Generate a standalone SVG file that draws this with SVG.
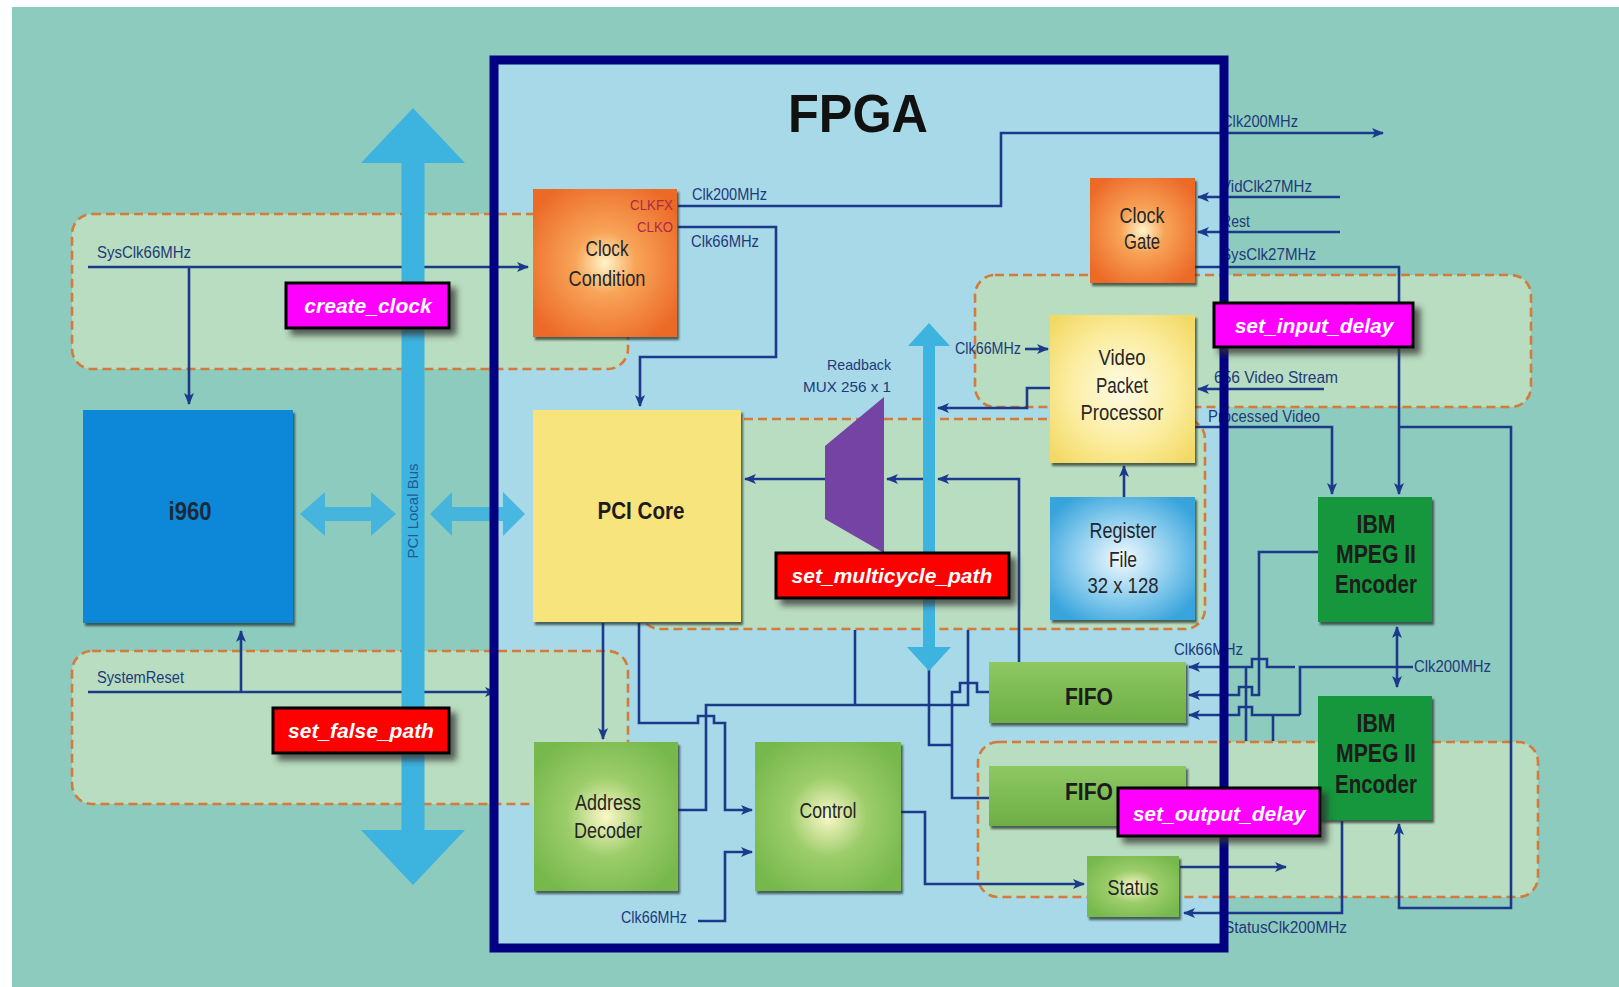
<svg xmlns="http://www.w3.org/2000/svg" width="1619" height="987" viewBox="0 0 1619 987">
<defs>
<style>
.ln{fill:none;stroke:#1b3a8a;stroke-width:2.6}
.arr{marker-end:url(#ah)}
.rg{fill:#b9ddc0;stroke:#d47a3a;stroke-width:2.6;stroke-dasharray:9 5}
.bus{fill:#3db3e0}
.lbl{font-family:"Liberation Sans",Arial,sans-serif;font-size:16px;fill:#1e3a7a}
.bx{font-family:"Liberation Sans",Arial,sans-serif;font-size:22px;fill:#262626;text-anchor:middle}
.bxb{font-family:"Liberation Sans",Arial,sans-serif;font-size:24px;font-weight:bold;fill:#1c1c1c;text-anchor:middle}
.ann{font-family:"Liberation Sans",Arial,sans-serif;font-size:21px;font-weight:bold;font-style:italic;fill:#ffffff;text-anchor:middle}
.annbox{stroke:#000;stroke-width:3;filter:url(#sh2)}
.node{filter:url(#sh1)}
</style>
<marker id="ah" viewBox="0 0 12 10" refX="11" refY="5" markerWidth="12" markerHeight="10" markerUnits="userSpaceOnUse" orient="auto-start-reverse">
<path d="M0,0 L12,5 L0,10 L3,5 z" fill="#1b3a8a"/>
</marker>
<radialGradient id="gOr" cx="0.5" cy="0.5" r="0.6">
<stop offset="0" stop-color="#fff4c8"/><stop offset="0.35" stop-color="#f8a458"/><stop offset="1" stop-color="#ec6a28"/>
</radialGradient>
<radialGradient id="gGr" cx="0.5" cy="0.5" r="0.6">
<stop offset="0" stop-color="#fbf7c8"/><stop offset="0.45" stop-color="#9ccd6a"/><stop offset="1" stop-color="#76b84c"/>
</radialGradient>
<radialGradient id="gYe" cx="0.5" cy="0.5" r="0.65">
<stop offset="0" stop-color="#fffbe6"/><stop offset="0.6" stop-color="#fbec9c"/><stop offset="1" stop-color="#f2d966"/>
</radialGradient>
<radialGradient id="gBl" cx="0.5" cy="0.5" r="0.6">
<stop offset="0" stop-color="#f4faff"/><stop offset="0.55" stop-color="#8ccdee"/><stop offset="1" stop-color="#38a4dc"/>
</radialGradient>
<linearGradient id="gFi" x1="0" y1="0" x2="0" y2="1">
<stop offset="0" stop-color="#8ec862"/><stop offset="1" stop-color="#6eae46"/>
</linearGradient>
<filter id="sh1" x="-10%" y="-10%" width="125%" height="125%">
<feDropShadow dx="2" dy="3" stdDeviation="1.2" flood-color="#1a2a20" flood-opacity="0.7"/>
</filter>
<filter id="sh2" x="-15%" y="-20%" width="140%" height="160%">
<feDropShadow dx="6" dy="6" stdDeviation="3" flood-color="#303030" flood-opacity="0.75"/>
</filter>
</defs>

<rect x="0" y="0" width="1619" height="987" fill="#ffffff"/>
<rect x="12" y="7" width="1607" height="980" fill="#8ecbbf"/>
<rect id="fpga-fill" x="494" y="60" width="730" height="888" fill="#a8d9e8"/>

<g id="regions">
<rect class="rg" x="72" y="214" width="556" height="155" rx="20"/>
<rect class="rg" x="72" y="651" width="556" height="153" rx="20"/>
<rect class="rg" x="640" y="419" width="565" height="210" rx="20"/>
<rect class="rg" x="975" y="275" width="556" height="132" rx="20"/>
<rect class="rg" x="978" y="742" width="560" height="155" rx="20"/>
</g>

<g id="connectors">
<path class="ln arr" d="M88,267 H528"/>
<path class="ln arr" d="M189,267 V404"/>
<path class="ln arr" d="M88,692 H496"/>
<path class="ln arr" d="M241,692 V631"/>
<path class="ln arr" d="M678,206 H1001 V133 H1383"/>
<path class="ln arr" d="M678,227 H776 V357 H640 V406"/>
<path class="ln arr" d="M826,479 H745"/>
<path class="ln arr" d="M923,479 H887"/>
<path class="ln arr" d="M1019,662 V479 H938"/>
<path class="ln arr" d="M1050,388 H1027 V408 H938"/>
<path class="ln arr" d="M1025,349 H1048"/>
<path class="ln arr" d="M1124,497 V466"/>
<path class="ln arr" d="M1340,197 H1198"/>
<path class="ln arr" d="M1340,232 H1198"/>
<path class="ln arr" d="M1195,267 H1399 V494"/>
<path class="ln arr" d="M1399,427 H1511 V908 H1399 V824"/>
<path class="ln arr" d="M1324,389 H1198"/>
<path class="ln arr" d="M1195,427 H1332 V494"/>
<path class="ln" d="M1397,627 V687" marker-start="url(#ah)" marker-end="url(#ah)"/>
<path class="ln" d="M1413,667 H1300 V715"/>
<path class="ln arr" d="M1295,667 H1267 V659 H1252 V667 H1189"/>
<path class="ln arr" d="M1318,552 H1259 V695 H1252 V687 H1239 V695 H1189"/>
<path class="ln arr" d="M1300,715 H1252 V707 H1239 V715 H1189"/>
<path class="ln" d="M1246,667 V741"/>
<path class="ln" d="M1273,715 V741"/>
<path class="ln arr" d="M1342,821 V913 H1184"/>
<path class="ln arr" d="M1180,867 H1286"/>
<path class="ln arr" d="M901,812 H925 V884 H1084"/>
<path class="ln arr" d="M603,623 V739"/>
<path class="ln arr" d="M639,623 V723 H698 V716 H714 V723 H725 V810 H752"/>
<path class="ln" d="M678,810 H706 V705 H968 V630"/>
<path class="ln" d="M855,705 V630"/>
<path class="ln" d="M989,692 H977 V683 H960 V692 H952 V798 H989"/>
<path class="ln" d="M929,668 V745 H952"/>
<path class="ln arr" d="M698,921 H725 V852 H752"/>
</g>

<g id="pci-local-bus">
<polygon class="bus" points="413,108 465,163 424.5,163 424.5,830 465,830 413,885 361,830 401.5,830 401.5,163 361,163"/>
<polygon class="bus" fill-opacity="0.9" points="300,514 325,492 325,507 371,507 371,492 396,514 371,536 371,521 325,521 325,536"/>
<polygon class="bus" fill-opacity="0.9" points="430,514 452,492 452,507 503,507 503,492 525,514 503,536 503,521 452,521 452,536"/>
<text x="0" y="0" transform="translate(418,511) rotate(-90)" text-anchor="middle" style="font-family:'Liberation Sans',Arial,sans-serif;font-size:15px;fill:#245a94">PCI Local Bus</text>
</g>
<g id="internal-bus">
<polygon class="bus" points="929,323 950,346 935,346 935,647 951,647 929,671 907,647 923,647 923,346 908,346"/>
</g>

<g id="i960">
<rect class="node" x="83" y="410" width="210" height="213" fill="#0a88d8"/>
<text class="bxb" x="190" y="520" textLength="43" lengthAdjust="spacingAndGlyphs" style="font-size:25px;fill:#1a2a3a">i960</text>
</g>
<g id="clock-condition">
<rect class="node" x="533" y="189" width="144" height="148" fill="url(#gOr)"/>
<text class="bx" x="607" y="256" textLength="43" lengthAdjust="spacingAndGlyphs">Clock</text>
<text class="bx" x="607" y="286" textLength="77" lengthAdjust="spacingAndGlyphs">Condition</text>
<text class="lbl" x="673" y="210" text-anchor="end" textLength="43" lengthAdjust="spacingAndGlyphs" style="font-size:15px;fill:#b02848">CLKFX</text>
<text class="lbl" x="673" y="232" text-anchor="end" textLength="36" lengthAdjust="spacingAndGlyphs" style="font-size:15px;fill:#b02848">CLKO</text>
</g>
<g id="pci-core">
<rect class="node" x="533" y="410" width="208" height="212" fill="#f8e47c"/>
<text class="bxb" x="641" y="519" textLength="87" lengthAdjust="spacingAndGlyphs">PCI Core</text>
</g>
<g id="readback-mux">
<polygon points="825,446 884,397 884,553 825,519" fill="#7443a4"/>
<text class="lbl" x="891" y="370" text-anchor="end" textLength="64" lengthAdjust="spacingAndGlyphs" style="font-size:15px">Readback</text>
<text class="lbl" x="891" y="392" text-anchor="end" textLength="88" lengthAdjust="spacingAndGlyphs" style="font-size:15px">MUX 256 x 1</text>
</g>
<g id="clock-gate">
<rect class="node" x="1090" y="178" width="105" height="105" fill="url(#gOr)"/>
<text class="bx" x="1142" y="223" textLength="45" lengthAdjust="spacingAndGlyphs">Clock</text>
<text class="bx" x="1142" y="249" textLength="36" lengthAdjust="spacingAndGlyphs">Gate</text>
</g>
<g id="video-packet-processor">
<rect class="node" x="1050" y="315" width="145" height="148" fill="url(#gYe)"/>
<text class="bx" x="1122" y="365" textLength="47" lengthAdjust="spacingAndGlyphs">Video</text>
<text class="bx" x="1122" y="393" textLength="52" lengthAdjust="spacingAndGlyphs">Packet</text>
<text class="bx" x="1122" y="420" textLength="83" lengthAdjust="spacingAndGlyphs">Processor</text>
</g>
<g id="register-file">
<rect class="node" x="1050" y="497" width="145" height="123" fill="url(#gBl)"/>
<text class="bx" x="1123" y="538" textLength="67" lengthAdjust="spacingAndGlyphs">Register</text>
<text class="bx" x="1123" y="567" textLength="28" lengthAdjust="spacingAndGlyphs">File</text>
<text class="bx" x="1123" y="593" textLength="71" lengthAdjust="spacingAndGlyphs">32 x 128</text>
</g>
<g id="encoder-1">
<rect class="node" x="1318" y="497" width="114" height="125" fill="#12963e"/>
<text class="bxb" x="1376" y="533" textLength="39" lengthAdjust="spacingAndGlyphs" style="font-size:25px">IBM</text>
<text class="bxb" x="1376" y="563" textLength="80" lengthAdjust="spacingAndGlyphs" style="font-size:25px">MPEG II</text>
<text class="bxb" x="1376" y="593" textLength="82" lengthAdjust="spacingAndGlyphs" style="font-size:25px">Encoder</text>
</g>
<g id="encoder-2">
<rect class="node" x="1318" y="696" width="114" height="124" fill="#12963e"/>
<text class="bxb" x="1376" y="732" textLength="39" lengthAdjust="spacingAndGlyphs" style="font-size:25px">IBM</text>
<text class="bxb" x="1376" y="762" textLength="80" lengthAdjust="spacingAndGlyphs" style="font-size:25px">MPEG II</text>
<text class="bxb" x="1376" y="793" textLength="82" lengthAdjust="spacingAndGlyphs" style="font-size:25px">Encoder</text>
</g>
<g id="fifo-1">
<rect class="node" x="989" y="662" width="197" height="61" fill="url(#gFi)"/>
<text class="bxb" x="1089" y="705" textLength="48" lengthAdjust="spacingAndGlyphs">FIFO</text>
</g>
<g id="fifo-2">
<rect class="node" x="989" y="766" width="197" height="60" fill="url(#gFi)"/>
<text class="bxb" x="1089" y="800" textLength="48" lengthAdjust="spacingAndGlyphs">FIFO</text>
</g>
<g id="status">
<rect class="node" x="1087" y="856" width="92" height="61" fill="url(#gGr)"/>
<text class="bx" x="1133" y="895" textLength="51" lengthAdjust="spacingAndGlyphs">Status</text>
</g>
<g id="address-decoder">
<rect class="node" x="534" y="742" width="144" height="149" fill="url(#gGr)"/>
<text class="bx" x="608" y="810" textLength="66" lengthAdjust="spacingAndGlyphs">Address</text>
<text class="bx" x="608" y="838" textLength="68" lengthAdjust="spacingAndGlyphs">Decoder</text>
</g>
<g id="control">
<rect class="node" x="755" y="742" width="146" height="149" fill="url(#gGr)"/>
<text class="bx" x="828" y="818" textLength="57" lengthAdjust="spacingAndGlyphs">Control</text>
</g>

<g id="signal-labels">
<text class="lbl" x="97" y="258" textLength="94" lengthAdjust="spacingAndGlyphs">SysClk66MHz</text>
<text class="lbl" x="97" y="683" textLength="87" lengthAdjust="spacingAndGlyphs">SystemReset</text>
<text class="lbl" x="692" y="200" textLength="75" lengthAdjust="spacingAndGlyphs">Clk200MHz</text>
<text class="lbl" x="691" y="247" textLength="68" lengthAdjust="spacingAndGlyphs">Clk66MHz</text>
<text class="lbl" x="955" y="354" textLength="66" lengthAdjust="spacingAndGlyphs">Clk66MHz</text>
<text class="lbl" x="1222" y="127" textLength="76" lengthAdjust="spacingAndGlyphs">Clk200MHz</text>
<text class="lbl" x="1221" y="192" textLength="91" lengthAdjust="spacingAndGlyphs">VidClk27MHz</text>
<text class="lbl" x="1221" y="227" textLength="29" lengthAdjust="spacingAndGlyphs">Rest</text>
<text class="lbl" x="1221" y="260" textLength="95" lengthAdjust="spacingAndGlyphs">SysClk27MHz</text>
<text class="lbl" x="1214" y="383" textLength="124" lengthAdjust="spacingAndGlyphs">656 Video Stream</text>
<text class="lbl" x="1208" y="422" textLength="112" lengthAdjust="spacingAndGlyphs">Processed Video</text>
<text class="lbl" x="1174" y="655" textLength="69" lengthAdjust="spacingAndGlyphs">Clk66MHz</text>
<text class="lbl" x="1414" y="672" textLength="77" lengthAdjust="spacingAndGlyphs">Clk200MHz</text>
<text class="lbl" x="1224" y="933" textLength="123" lengthAdjust="spacingAndGlyphs">StatusClk200MHz</text>
<text class="lbl" x="687" y="923" text-anchor="end" textLength="66" lengthAdjust="spacingAndGlyphs">Clk66MHz</text>
</g>

<rect id="fpga-border" x="494" y="60" width="730" height="888" fill="none" stroke="#000080" stroke-width="9"/>
<text id="fpga-title" x="858" y="132" text-anchor="middle" textLength="140" lengthAdjust="spacingAndGlyphs" style="font-family:'Liberation Sans',Arial,sans-serif;font-size:54px;font-weight:bold;fill:#111">FPGA</text>

<g id="constraints">
<g id="create-clock"><rect class="annbox" x="286" y="283" width="163" height="45" fill="#ff00ff"/><text class="ann" x="368" y="313">create_clock</text></g>
<g id="set-false-path"><rect class="annbox" x="273" y="708" width="176" height="45" fill="#ff0000"/><text class="ann" x="361" y="738">set_false_path</text></g>
<g id="set-multicycle-path"><rect class="annbox" x="776" y="553" width="233" height="45" fill="#ff0000"/><text class="ann" x="892" y="583">set_multicycle_path</text></g>
<g id="set-input-delay"><rect class="annbox" x="1214" y="303" width="199" height="44" fill="#ff00ff"/><text class="ann" x="1314" y="333">set_input_delay</text></g>
<g id="set-output-delay"><rect class="annbox" x="1118" y="788" width="202" height="48" fill="#ff00ff"/><text class="ann" x="1219" y="821">set_output_delay</text></g>
</g>
</svg>
